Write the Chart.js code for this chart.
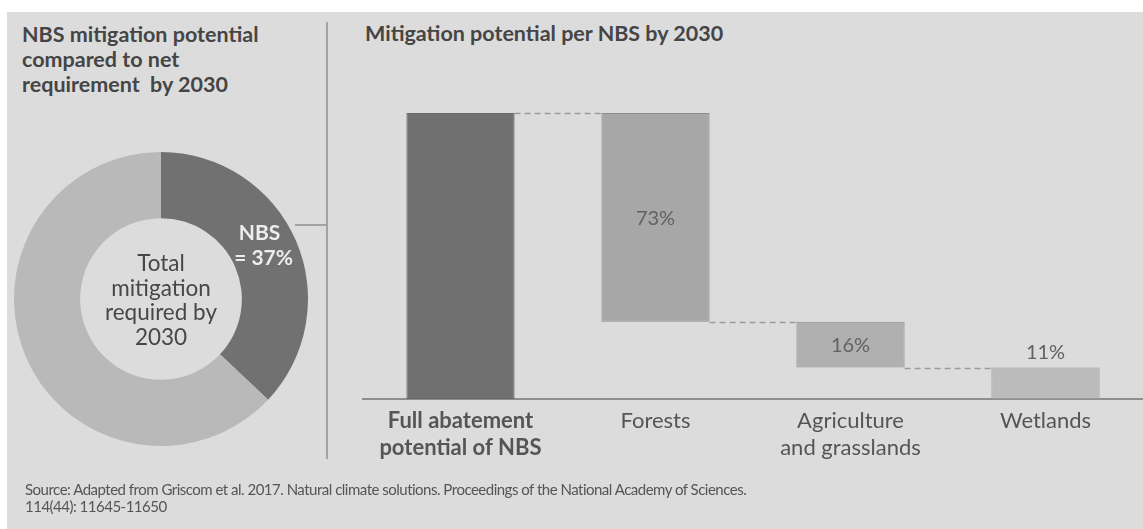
<!DOCTYPE html>
<html lang="en">
<head>
<meta charset="UTF-8">
<title>NBS mitigation potential</title>
<script src="https://cdn.jsdelivr.net/npm/chart.js@4.4.0/dist/chart.umd.min.js"></script>
<style>
  body { margin: 0; background: #fff; font-family: Lato, 'Open Sans', sans-serif; }
  .panel { position: absolute; left: 7px; top: 12px; width: 1136px; height: 517px; background: #dcdcdc; }
  .title { position: absolute; font-weight: bold; font-size: 21.5px; line-height: 25px; color: #454545; white-space: nowrap; }
  .divider { position: absolute; left: 326px; top: 22px; width: 2px; height: 437px; background: #a2a2a2; }
  .tick { position: absolute; left: 295px; top: 224px; width: 32px; height: 2px; background: #a2a2a2; }
  .source { position: absolute; left: 25px; top: 481px; font-size: 15px; line-height: 17px; color: #555; letter-spacing: -0.5px; white-space: nowrap; }
  #donutWrap { position: absolute; left: 14px; top: 152px; width: 294px; height: 294px; }
  #barWrap { position: absolute; left: 330px; top: 0; width: 813px; height: 529px; }
</style>
</head>
<body>
<div class="panel"></div>
<div class="title" style="left:22px; top:22px;">NBS mitigation potential<br>compared to net<br>requirement&nbsp; by 2030</div>
<div class="title" style="left:365px; top:21px;">Mitigation potential per NBS by 2030</div>
<div class="divider"></div>
<div class="tick"></div>
<div id="donutWrap"><canvas id="donutChart"></canvas></div>
<div id="barWrap"><canvas id="barChart"></canvas></div>
<div class="source">Source: Adapted from Griscom et al. 2017. Natural climate solutions. Proceedings of the National Academy of Sciences.<br>114(44): 11645-11650</div>

<script>
// donut: share of total mitigation required by 2030
const donutLabels = ['NBS', 'Other mitigation'];
const donutValues = [37, 63];
const donutColors = ['#717171', '#b9b9b9'];
const centerLines = ['Total', 'mitigation', 'required by', '2030'];

// waterfall: mitigation potential per NBS (% of full NBS potential)
const categories = [['Full abatement', 'potential of NBS'], 'Forests', ['Agriculture', 'and grasslands'], 'Wetlands'];
const totalShare = 100;
const shares = [73, 16, 11];
const barColors = ['#707070', '#a7a7a7', '#b0b0b0', '#bbbbbb'];
const barBorders = ['#686868', '#8c8c8c', '#8f8f8f', '#999999'];

// floating ranges for the waterfall
const ranges = [[0, totalShare]];
let level = totalShare;
shares.forEach(s => { ranges.push([level - s, level]); level -= s; });

Chart.defaults.font.family = 'Lato, "Open Sans", sans-serif';

const donutText = {
    id: 'donutText',
    afterDraw(chart) {
        const ctx = chart.ctx;
        const arc = chart.getDatasetMeta(0).data[0];
        const cx = arc.x, cy = arc.y;
        ctx.save();
        ctx.textAlign = 'center';
        ctx.textBaseline = 'middle';
        ctx.fillStyle = '#474747';
        ctx.font = '22.5px Lato';
        centerLines.forEach((t, i) => ctx.fillText(t, cx, cy - 35 + i * 24.5));
        // NBS label on the dark segment
        const p = arc.getCenterPoint();
        ctx.fillStyle = '#ededed';
        ctx.font = 'bold 21px Lato';
        ctx.fillText(donutLabels[0], p.x - 6, p.y - 21);
        ctx.fillText('= ' + donutValues[0] + '%', p.x - 2, p.y + 4);
        ctx.restore();
    }
};

new Chart(document.getElementById('donutChart'), {
    type: 'doughnut',
    data: {
        labels: donutLabels,
        datasets: [{
            data: donutValues,
            backgroundColor: donutColors,
            borderWidth: 0
        }]
    },
    options: {
        responsive: true,
        maintainAspectRatio: false,
        animation: false,
        cutout: '55%',
        layout: { padding: 0 },
        plugins: { legend: { display: false }, tooltip: { enabled: false } }
    },
    plugins: [donutText]
});

const waterfallExtras = {
    id: 'waterfallExtras',
    afterDatasetsDraw(chart) {
        const ctx = chart.ctx;
        const meta = chart.getDatasetMeta(0);
        const y = chart.scales.y;
        ctx.save();
        // dashed connectors
        ctx.setLineDash([6, 4]);
        ctx.strokeStyle = '#9a9a9a';
        ctx.lineWidth = 1.5;
        for (let i = 0; i < meta.data.length - 1; i++) {
            const a = meta.data[i], b = meta.data[i + 1];
            const py = Math.round(y.getPixelForValue(ranges[i + 1][1])) + 0.5;
            ctx.beginPath();
            ctx.moveTo(a.x + a.width / 2, py);
            ctx.lineTo(b.x - b.width / 2, py);
            ctx.stroke();
        }
        ctx.setLineDash([]);
        // percentage labels
        ctx.fillStyle = '#626262';
        ctx.font = '20px Lato';
        ctx.textAlign = 'center';
        ctx.textBaseline = 'middle';
        shares.forEach((s, i) => {
            const bar = meta.data[i + 1];
            const h = Math.abs(bar.base - bar.y);
            const ty = h > 35 ? (bar.y + bar.base) / 2 + 1 : Math.min(bar.y, bar.base) - 15;
            ctx.fillText(s + '%', bar.x, ty);
        });
        ctx.restore();
    }
};

new Chart(document.getElementById('barChart'), {
    type: 'bar',
    data: {
        labels: categories,
        datasets: [{
            data: ranges,
            backgroundColor: barColors,
            borderColor: barBorders,
            borderWidth: 1,
            borderSkipped: false,
            barPercentage: 0.555,
            categoryPercentage: 1
        }]
    },
    options: {
        responsive: true,
        maintainAspectRatio: false,
        animation: false,
        layout: { padding: { left: 33, right: 0, top: 113, bottom: 60 } },
        plugins: { legend: { display: false }, tooltip: { enabled: false } },
        scales: {
            x: {
                grid: { display: false, drawTicks: false },
                border: { display: true, color: '#8e8e8e', width: 2 },
                afterFit: s => { s.height = 70; },
                ticks: {
                    padding: 8,
                    color: '#555',
                    maxRotation: 0,
                    autoSkip: false,
                    font: c => ({ size: 22, lineHeight: 1.23, weight: c.index === 0 ? 'bold' : 'normal' })
                }
            },
            y: { display: false, min: 0, max: totalShare }
        }
    },
    plugins: [waterfallExtras]
});
</script>
</body>
</html>
